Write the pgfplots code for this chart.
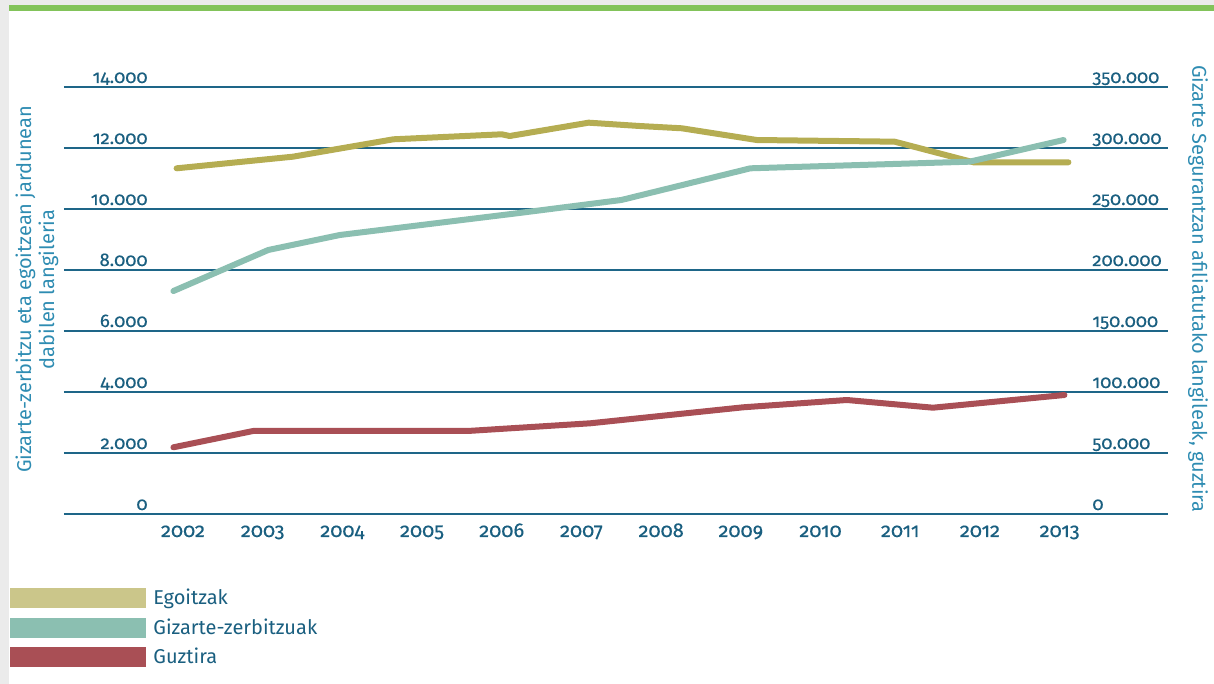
\documentclass[border=0pt]{standalone}
\usepackage{fontspec}
\setmainfont{Fira Sans}[Numbers=OldStyle]
\newfontfamily\tickfont{Fira Sans}[Numbers=OldStyle, FakeBold=0.35]
\usepackage{pgfplots}
\pgfplotsset{compat=1.18}
\definecolor{tickc}{HTML}{1A5F80}
\definecolor{gridc}{HTML}{1E6688}
\definecolor{labc}{HTML}{2E8CB2}
\definecolor{olive}{HTML}{B5AD52}
\definecolor{oliveL}{HTML}{CBC68A}
\definecolor{teal2}{HTML}{8BBFB1}
\definecolor{red2}{HTML}{A94F55}
\definecolor{green2}{HTML}{82C35A}
\definecolor{gray2}{HTML}{EBEBEB}
\pgfplotsset{common/.style={
  at={(32pt,85pt)}, anchor=south west, scale only axis,
  width=552pt, height=213.5pt,
  xmin=2000.507, xmax=2014.36, ymin=0,
  axis line style={draw=none}, major tick length=0pt,
  tick label style={font=\tickfont\fontsize{9.2}{10}\selectfont, text=tickc},
  scaled y ticks=false,
}}
\begin{document}
\begin{tikzpicture}
\path[use as bounding box] (0pt,0pt) rectangle (607pt,342pt);
\fill[gray2] (0pt,0pt) rectangle (4.5pt,342pt);
\fill[gray2] (0pt,339.5pt) rectangle (607pt,342pt);
\fill[green2] (4.5pt,336.5pt) rectangle (607pt,339.5pt);
\begin{axis}[common, ymax=14000, ytick={0,2000,4000,6000,8000,10000,12000,14000},
  yticklabels={0,2.000,4.000,6.000,8.000,10.000,12.000,14.000},
  ymajorgrids, grid style={gridc, line width=0.6pt},
  xtick={2002,2003,2004,2005,2006,2007,2008,2009,2010,2011,2012,2013},
  xticklabels={2002,2003,2004,2005,2006,2007,2008,2009,2010,2011,2012,2013},
  xticklabel style={anchor=base, yshift=-11.5pt, font=\tickfont\fontsize{10}{11}\selectfont},
  yticklabel style={anchor=base east, xshift=42pt, yshift=2pt, inner sep=0pt},
  ylabel={Gizarte-zerbitzu eta egoitzean jardunean\\dabilen langileria},
  ylabel style={at={(axis description cs:-0.0245,0.526)}, anchor=center, align=center,
    font=\fontsize{10}{11.5}\selectfont, text=labc},
  legend style={at={(axis description cs:-0.0489,-0.1733)}, anchor=north west,
    draw=none, fill=none, inner sep=0pt, row sep=4.75pt, column sep=3.5pt,
    font=\fontsize{10}{11}\selectfont, text=tickc, nodes={inner sep=0pt}},
  legend cell align=left,
  legend image code/.code={\fill[#1] (0pt,-5pt) rectangle (68pt,5pt);},
]
\addlegendimage{fill=oliveL, draw=none}
\addlegendentry{Egoitzak}
\addlegendimage{fill=teal2, draw=none}
\addlegendentry{Gizarte-zerbitzuak}
\addlegendimage{fill=red2, draw=none}
\addlegendentry{Guztira}
\addplot[olive, line width=3pt, line cap=round, line join=round, forget plot] coordinates {
 (2001.92,11334) (2003.38,11715) (2004.64,12285) (2006.00,12449) (2006.10,12393)
 (2007.09,12830) (2007.73,12721) (2008.26,12646) (2009.20,12262) (2010.93,12207)
 (2011.92,11531) (2013.11,11531)};
\addplot[teal2, line width=3pt, line cap=round, line join=round, forget plot] coordinates {
 (2001.88,7311) (2003.07,8656) (2003.97,9148) (2006.19,9859) (2007.50,10295)
 (2009.12,11334) (2011.87,11551) (2013.05,12262)};
\end{axis}
\begin{axis}[common, ymax=350000, ytick={0,50000,100000,150000,200000,250000,300000,350000},
  yticklabels={0,50.000,100.000,150.000,200.000,250.000,300.000,350.000},
  xtick=\empty, yticklabel pos=right,
  yticklabel style={anchor=base west, xshift=-38pt, yshift=2pt, inner sep=0pt},
  ylabel={Gizarte Segurantzan afiliatutako langileak, guztira},
  ylabel style={at={(axis description cs:1.0272,0.527)}, anchor=center, rotate=180,
    font=\fontsize{10}{11.5}\selectfont, text=labc},
]
\addplot[red2, line width=3pt, line cap=round, line join=round] coordinates {
 (2001.88,54672) (2002.88,68033) (2005.57,68033) (2007.11,74344) (2009.03,87459)
 (2010.33,93443) (2011.41,87131) (2013.06,97541)};
\end{axis}
\end{tikzpicture}
\end{document}
